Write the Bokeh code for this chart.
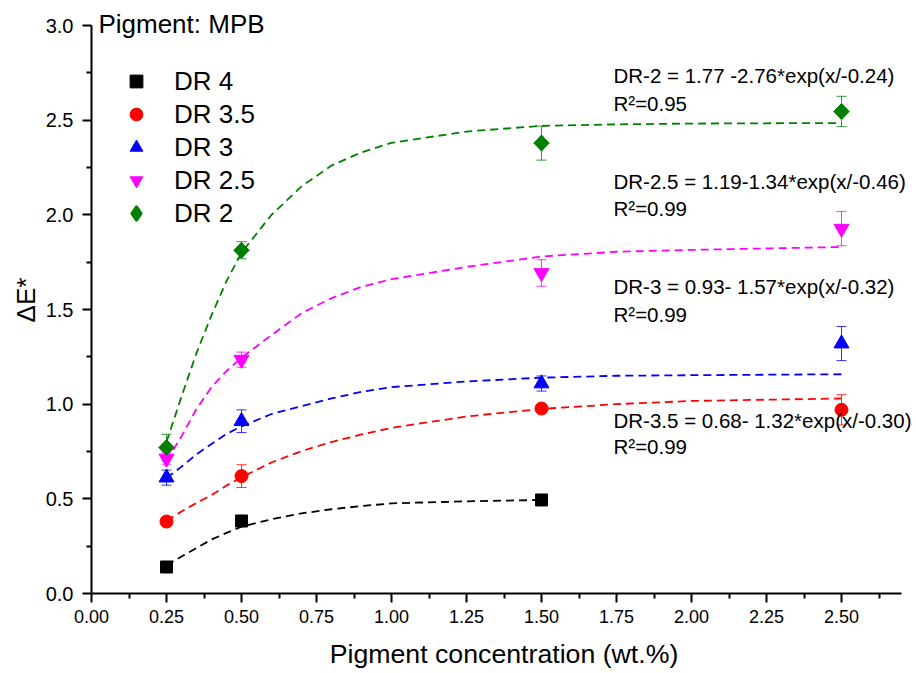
import numpy as np
from bokeh.plotting import figure
from bokeh.models import (ColumnDataSource, Range1d, Whisker, TeeHead, Legend, LegendItem,
                          Label, FixedTicker)
from bokeh.embed import file_html
from bokeh.resources import INLINE

# ---------------- data ----------------
conc = [0.25, 0.50, 1.50, 2.50]

dr4_x = [0.25, 0.50, 1.50]
dr4_y = [0.14, 0.383, 0.494]
dr4_err = [0.0, 0.0, 0.0]

dr35_y = [0.38, 0.62, 0.977, 0.97]
dr35_err = [0.01, 0.06, 0.02, 0.08]

dr3_y = [0.612, 0.91, 1.109, 1.32]
dr3_err = [0.04, 0.06, 0.04, 0.09]

dr25_y = [0.713, 1.235, 1.693, 1.927]
dr25_err = [0.03, 0.04, 0.07, 0.09]

dr2_y = [0.771, 1.813, 2.379, 2.546]
dr2_err = [0.07, 0.045, 0.09, 0.08]

# fitted curves
fit_x = [0.25, 0.30, 0.35, 0.40, 0.45, 0.50, 0.60, 0.70, 0.80, 0.90, 1.00, 1.25, 1.50, 1.75, 2.00, 2.50]
fit_dr2 = [0.80, 1.04, 1.27, 1.47, 1.65, 1.80, 2.00, 2.15, 2.26, 2.33, 2.38, 2.44, 2.47, 2.478, 2.482, 2.485]
fit_dr25 = [0.70, 0.83, 0.975, 1.09, 1.175, 1.245, 1.365, 1.48, 1.56, 1.62, 1.66, 1.725, 1.78, 1.805, 1.815, 1.83]
fit_dr3 = [0.61, 0.67, 0.735, 0.79, 0.843, 0.883, 0.948, 0.99, 1.03, 1.065, 1.09, 1.12, 1.14, 1.15, 1.153, 1.158]
fit_dr35 = [0.385, 0.433, 0.478, 0.52, 0.57, 0.614, 0.692, 0.752, 0.80, 0.84, 0.875, 0.935, 0.975, 1.00, 1.017, 1.03]
fit_x4 = [0.25, 0.30, 0.35, 0.40, 0.45, 0.50, 0.60, 0.70, 0.80, 0.90, 1.00, 1.25, 1.50]
fit_dr4 = [0.15, 0.195, 0.24, 0.285, 0.32, 0.353, 0.392, 0.423, 0.445, 0.462, 0.476, 0.487, 0.494]

series_labels = ["DR 4", "DR 3.5", "DR 3", "DR 2.5", "DR 2"]
eq_texts = ["DR-2 = 1.77 -2.76*exp(x/-0.24)", "R\u00b2=0.95",
            "DR-2.5 = 1.19-1.34*exp(x/-0.46)", "R\u00b2=0.99",
            "DR-3 = 0.93- 1.57*exp(x/-0.32)", "R\u00b2=0.99",
            "DR-3.5 = 0.68- 1.32*exp(x/-0.30)", "R\u00b2=0.99"]
x_ticks = [0.0, 0.25, 0.5, 0.75, 1.0, 1.25, 1.5, 1.75, 2.0, 2.25, 2.5]
x_tick_labels = ["0.00", "0.25", "0.50", "0.75", "1.00", "1.25", "1.50", "1.75", "2.00", "2.25", "2.50"]
y_ticks = [0.0, 0.5, 1.0, 1.5, 2.0, 2.5, 3.0]

# ---------------- layout ----------------
eq_pos_x = 1.74
eq_pos_y = [2.738, 2.588, 2.174, 2.033, 1.620, 1.471, 0.916, 0.775]
title_pos = (0.023, 3.006)

FONT = "Liberation Sans"
PX_PER_UNIT = 568 / 3.0
EXTRA_TOP = 19  # pixels of frame above y=3.0 so texts there are not clipped

p = figure(width=916, height=673, frame_width=825, frame_height=568 + EXTRA_TOP,
           min_border_left=91, min_border_right=0, min_border_top=25 - EXTRA_TOP,
           min_border_bottom=80,
           x_range=Range1d(0, 2.75), y_range=Range1d(0, 3.0 + EXTRA_TOP / PX_PER_UNIT),
           output_backend="svg", toolbar_location=None, x_axis_location="below")
p.outline_line_color = None
p.grid.visible = False
p.background_fill_color = "white"
p.border_fill_color = "white"

for ax in (p.xaxis[0], p.yaxis[0]):
    ax.axis_line_width = 2
    ax.major_tick_line_width = 2
    ax.minor_tick_line_width = 2
    ax.major_tick_out = 9
    ax.major_tick_in = 0
    ax.minor_tick_out = 5
    ax.minor_tick_in = 0
    ax.major_label_text_font = FONT
    ax.axis_label_text_font = FONT
    ax.axis_label_text_font_style = "normal"
    ax.major_label_text_color = "black"
    ax.axis_label_text_color = "black"

p.xaxis.bounds = (0, 2.70)
p.xaxis.ticker = FixedTicker(ticks=x_ticks,
                             minor_ticks=[t + 0.125 for t in x_ticks])
p.xaxis.major_label_overrides = {t: l for t, l in zip(x_ticks, x_tick_labels)}
p.xaxis.major_label_text_font_size = "18px"
p.xaxis.major_label_standoff = 7
p.xaxis.axis_label = "Pigment concentration (wt.%)"
p.xaxis.axis_label_text_font_size = "26.7px"
p.xaxis.axis_label_standoff = 13

p.yaxis.bounds = (0, 3.0)
p.yaxis.ticker = FixedTicker(ticks=y_ticks, minor_ticks=[t + 0.25 for t in y_ticks[:-1]])
p.yaxis.major_label_overrides = {t: f"{t:.1f}" for t in y_ticks}
p.yaxis.major_label_text_font_size = "20px"
p.yaxis.major_label_standoff = 9
p.yaxis.axis_label = "\u0394E*"
p.yaxis.axis_label_text_font_size = "26px"
p.yaxis.axis_label_standoff = 2

DASH = "8 5"
LW = 1.8

specs = [
    ("black", dr4_x, dr4_y, dr4_err, fit_x4, fit_dr4, "square", 12, 0.0),
    ("#FF0000", conc, dr35_y, dr35_err, fit_x, fit_dr35, "circle", 13, 0.0),
    ("#0000FF", conc, dr3_y, dr3_err, fit_x, fit_dr3, "triangle", 15, 0.0),
    ("#FF00FF", conc, dr25_y, dr25_err, fit_x, fit_dr25, "inverted_triangle", 15, 0.0),
    ("#008000", conc, dr2_y, dr2_err, fit_x, fit_dr2, "square", 11, np.pi / 4),
]

legend_renderers = []
for color, xs, ys, errs, fx, fy, marker, size, ang in specs:
    p.line(fx, fy, line_color=color, line_dash=DASH, line_width=LW)
    src = ColumnDataSource(dict(x=xs, y=ys,
                                upper=[a + b for a, b in zip(ys, errs)],
                                lower=[a - b for a, b in zip(ys, errs)]))
    if any(e > 0 for e in errs):
        w = Whisker(source=src, base="x", upper="upper", lower="lower",
                    line_color=color, line_width=1, line_alpha=0.8,
                    upper_head=TeeHead(size=10, line_color=color, line_width=1, line_alpha=0.8),
                    lower_head=TeeHead(size=10, line_color=color, line_width=1, line_alpha=0.8))
        p.add_layout(w)
    if ang != 0.0:
        # legend glyphs ignore marker angle: a (hidden) diamond renderer serves the legend
        lr = p.scatter("x", "y", source=src, marker="diamond", size=12, fill_color=color,
                       line_color=color, line_width=3.5, line_join="round")
    r = p.scatter("x", "y", source=src, marker=marker, size=size, angle=ang,
                  fill_color=color, line_color=color, line_width=1)
    legend_renderers.append(lr if ang != 0.0 else r)

legend = Legend(items=[LegendItem(label=l, renderers=[r]) for l, r in zip(series_labels, legend_renderers)],
                location=(29, 364), orientation="vertical",
                glyph_width=32, glyph_height=32, label_height=32, spacing=1,
                label_standoff=22, padding=0, margin=0,
                border_line_color=None, background_fill_alpha=0,
                label_text_font=FONT, label_text_font_size="26px", label_text_color="black")
p.add_layout(legend, "center")

p.add_layout(Label(x=title_pos[0], y=title_pos[1], text="Pigment: MPB", text_font=FONT,
                   text_font_size="26px", text_baseline="alphabetic", text_color="black"))

for t, yy in zip(eq_texts, eq_pos_y):
    p.add_layout(Label(x=eq_pos_x, y=yy, text=t, text_font=FONT, text_font_size="20.5px",
                       text_baseline="alphabetic", text_color="black"))

open("out.html", "w").write(file_html(p, INLINE))
